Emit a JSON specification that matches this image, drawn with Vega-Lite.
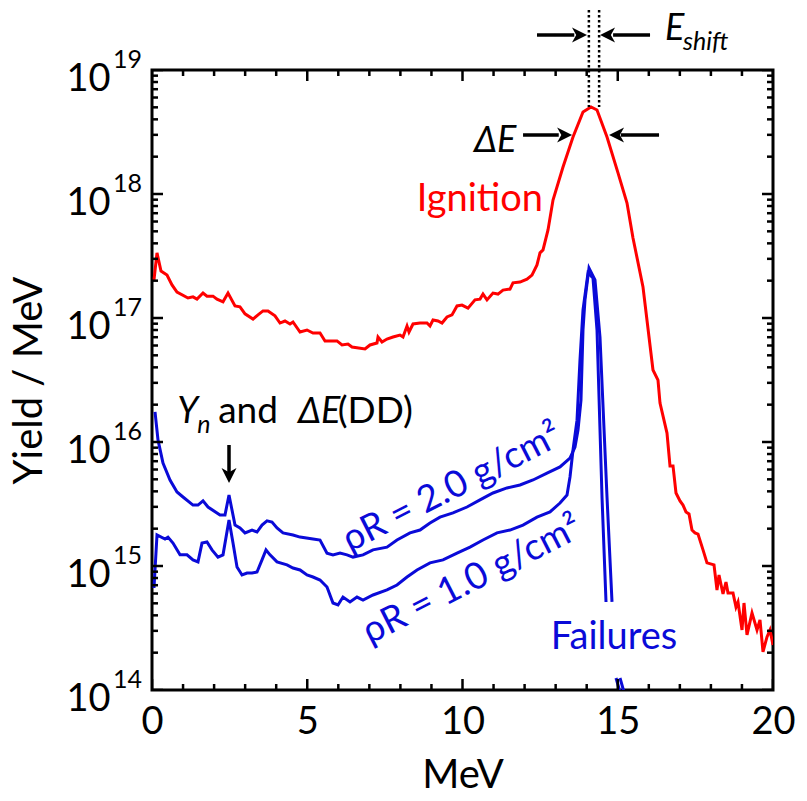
{
  "$schema": "https://vega.github.io/schema/vega-lite/v6.json",
  "width": 621,
  "height": 620,
  "autosize": {"type": "none"},
  "padding": {"left": 152, "top": 70, "right": 34, "bottom": 111},
  "background": "white",
  "config": {"view": {"stroke": "black", "strokeWidth": 3}, "font": "Lato, 'Open Sans'"},
  "datasets": {
    "spectra": [
      {"s":"ign","g":"ign","e":0.064,"y":2.03e17},{"s":"ign","g":"ign","e":0.161,"y":3.35e17},{"s":"ign","g":"ign","e":0.290,"y":2.39e17},{"s":"ign","g":"ign","e":0.483,"y":2.22e17},{"s":"ign","g":"ign","e":0.644,"y":1.85e17},{"s":"ign","g":"ign","e":0.805,"y":1.62e17},{"s":"ign","g":"ign","e":1.159,"y":1.45e17},{"s":"ign","g":"ign","e":1.320,"y":1.48e17},{"s":"ign","g":"ign","e":1.449,"y":1.42e17},{"s":"ign","g":"ign","e":1.643,"y":1.59e17},{"s":"ign","g":"ign","e":1.771,"y":1.50e17},{"s":"ign","g":"ign","e":1.965,"y":1.50e17},{"s":"ign","g":"ign","e":2.093,"y":1.42e17},{"s":"ign","g":"ign","e":2.287,"y":1.35e17},{"s":"ign","g":"ign","e":2.448,"y":1.59e17},{"s":"ign","g":"ign","e":2.673,"y":1.25e17},{"s":"ign","g":"ign","e":2.834,"y":1.23e17},{"s":"ign","g":"ign","e":2.995,"y":1.08e17},{"s":"ign","g":"ign","e":3.253,"y":9.81e16},{"s":"ign","g":"ign","e":3.414,"y":1.06e17},{"s":"ign","g":"ign","e":3.575,"y":1.14e17},{"s":"ign","g":"ign","e":3.736,"y":1.14e17},{"s":"ign","g":"ign","e":3.961,"y":1.04e17},{"s":"ign","g":"ign","e":4.122,"y":9.11e16},{"s":"ign","g":"ign","e":4.283,"y":9.46e16},{"s":"ign","g":"ign","e":4.444,"y":8.95e16},{"s":"ign","g":"ign","e":4.541,"y":9.29e16},{"s":"ign","g":"ign","e":4.767,"y":7.71e16},{"s":"ign","g":"ign","e":4.992,"y":8.00e16},{"s":"ign","g":"ign","e":5.185,"y":7.57e16},{"s":"ign","g":"ign","e":5.411,"y":7.57e16},{"s":"ign","g":"ign","e":5.572,"y":6.53e16},{"s":"ign","g":"ign","e":5.958,"y":6.53e16},{"s":"ign","g":"ign","e":6.119,"y":6.06e16},{"s":"ign","g":"ign","e":6.312,"y":6.17e16},{"s":"ign","g":"ign","e":6.441,"y":5.84e16},{"s":"ign","g":"ign","e":6.860,"y":5.62e16},{"s":"ign","g":"ign","e":7.021,"y":6.06e16},{"s":"ign","g":"ign","e":7.246,"y":6.29e16},{"s":"ign","g":"ign","e":7.279,"y":7.03e16},{"s":"ign","g":"ign","e":7.407,"y":6.41e16},{"s":"ign","g":"ign","e":7.568,"y":6.77e16},{"s":"ign","g":"ign","e":7.762,"y":7.03e16},{"s":"ign","g":"ign","e":7.987,"y":7.29e16},{"s":"ign","g":"ign","e":8.084,"y":7.03e16},{"s":"ign","g":"ign","e":8.213,"y":8.62e16},{"s":"ign","g":"ign","e":8.277,"y":7.71e16},{"s":"ign","g":"ign","e":8.406,"y":8.95e16},{"s":"ign","g":"ign","e":8.631,"y":9.11e16},{"s":"ign","g":"ign","e":8.857,"y":9.11e16},{"s":"ign","g":"ign","e":8.953,"y":8.62e16},{"s":"ign","g":"ign","e":9.050,"y":9.64e16},{"s":"ign","g":"ign","e":9.211,"y":9.46e16},{"s":"ign","g":"ign","e":9.340,"y":9.11e16},{"s":"ign","g":"ign","e":9.501,"y":1.02e17},{"s":"ign","g":"ign","e":9.662,"y":1.06e17},{"s":"ign","g":"ign","e":9.823,"y":1.25e17},{"s":"ign","g":"ign","e":9.984,"y":1.27e17},{"s":"ign","g":"ign","e":10.177,"y":1.20e17},{"s":"ign","g":"ign","e":10.403,"y":1.40e17},{"s":"ign","g":"ign","e":10.564,"y":1.42e17},{"s":"ign","g":"ign","e":10.660,"y":1.56e17},{"s":"ign","g":"ign","e":10.789,"y":1.40e17},{"s":"ign","g":"ign","e":10.982,"y":1.59e17},{"s":"ign","g":"ign","e":11.143,"y":1.56e17},{"s":"ign","g":"ign","e":11.304,"y":1.68e17},{"s":"ign","g":"ign","e":11.530,"y":1.71e17},{"s":"ign","g":"ign","e":11.626,"y":1.92e17},{"s":"ign","g":"ign","e":11.852,"y":1.95e17},{"s":"ign","g":"ign","e":12.077,"y":2.06e17},{"s":"ign","g":"ign","e":12.238,"y":2.22e17},{"s":"ign","g":"ign","e":12.399,"y":2.68e17},{"s":"ign","g":"ign","e":12.496,"y":3.35e17},{"s":"ign","g":"ign","e":12.593,"y":3.54e17},{"s":"ign","g":"ign","e":12.754,"y":5.13e17},{"s":"ign","g":"ign","e":12.915,"y":8.95e17},{"s":"ign","g":"ign","e":13.237,"y":1.65e18},{"s":"ign","g":"ign","e":13.559,"y":2.88e18},{"s":"ign","g":"ign","e":13.881,"y":4.59e18},{"s":"ign","g":"ign","e":14.138,"y":5.03e18},{"s":"ign","g":"ign","e":14.332,"y":4.76e18},{"s":"ign","g":"ign","e":14.654,"y":2.88e18},{"s":"ign","g":"ign","e":15.008,"y":1.48e18},{"s":"ign","g":"ign","e":15.298,"y":8.46e17},{"s":"ign","g":"ign","e":15.491,"y":4.42e17},{"s":"ign","g":"ign","e":15.813,"y":1.78e17},{"s":"ign","g":"ign","e":16.135,"y":3.81e16},{"s":"ign","g":"ign","e":16.296,"y":3.16e16},{"s":"ign","g":"ign","e":16.361,"y":2.06e16},{"s":"ign","g":"ign","e":16.586,"y":1.18e16},{"s":"ign","g":"ign","e":16.683,"y":6.41e15},{"s":"ign","g":"ign","e":16.780,"y":6.41e15},{"s":"ign","g":"ign","e":16.876,"y":3.88e15},{"s":"ign","g":"ign","e":17.005,"y":3.35e15},{"s":"ign","g":"ign","e":17.101,"y":3.10e15},{"s":"ign","g":"ign","e":17.198,"y":2.73e15},{"s":"ign","g":"ign","e":17.295,"y":2.63e15},{"s":"ign","g":"ign","e":17.391,"y":1.95e15},{"s":"ign","g":"ign","e":17.488,"y":1.85e15},{"s":"ign","g":"ign","e":17.585,"y":1.81e15},{"s":"ign","g":"ign","e":17.746,"y":1.35e15},{"s":"ign","g":"ign","e":17.874,"y":1.06e15},{"s":"ign","g":"ign","e":18.100,"y":1.02e15},{"s":"ign","g":"ign","e":18.196,"y":6.41e14},{"s":"ign","g":"ign","e":18.261,"y":8.46e14},{"s":"ign","g":"ign","e":18.390,"y":5.95e14},{"s":"ign","g":"ign","e":18.486,"y":7.43e14},{"s":"ign","g":"ign","e":18.551,"y":6.06e14},{"s":"ign","g":"ign","e":18.712,"y":6.06e14},{"s":"ign","g":"ign","e":18.808,"y":4.67e14},{"s":"ign","g":"ign","e":18.873,"y":5.13e14},{"s":"ign","g":"ign","e":19.002,"y":3.05e14},{"s":"ign","g":"ign","e":19.066,"y":5.03e14},{"s":"ign","g":"ign","e":19.163,"y":2.78e14},{"s":"ign","g":"ign","e":19.324,"y":4.18e14},{"s":"ign","g":"ign","e":19.485,"y":3.05e14},{"s":"ign","g":"ign","e":19.581,"y":3.67e14},{"s":"ign","g":"ign","e":19.678,"y":2.03e14},{"s":"ign","g":"ign","e":19.807,"y":2.68e14},{"s":"ign","g":"ign","e":19.903,"y":3.05e14},{"s":"ign","g":"ign","e":20.0,"y":2.31e14},

      {"s":"r2","g":"r2a","e":0.097,"y":1.75e16},{"s":"r2","g":"r2a","e":0.193,"y":1.04e16},{"s":"r2","g":"r2a","e":0.354,"y":6.77e15},{"s":"r2","g":"r2a","e":0.580,"y":4.94e15},{"s":"r2","g":"r2a","e":0.805,"y":3.95e15},{"s":"r2","g":"r2a","e":0.998,"y":3.60e15},{"s":"r2","g":"r2a","e":1.320,"y":3.10e15},{"s":"r2","g":"r2a","e":1.481,"y":3.10e15},{"s":"r2","g":"r2a","e":1.643,"y":3.35e15},{"s":"r2","g":"r2a","e":1.804,"y":2.99e15},{"s":"r2","g":"r2a","e":2.190,"y":2.58e15},{"s":"r2","g":"r2a","e":2.351,"y":2.58e15},{"s":"r2","g":"r2a","e":2.480,"y":3.74e15},{"s":"r2","g":"r2a","e":2.673,"y":2.14e15},{"s":"r2","g":"r2a","e":2.834,"y":2.03e15},{"s":"r2","g":"r2a","e":2.995,"y":1.85e15},{"s":"r2","g":"r2a","e":3.221,"y":1.95e15},{"s":"r2","g":"r2a","e":3.382,"y":1.88e15},{"s":"r2","g":"r2a","e":3.543,"y":2.14e15},{"s":"r2","g":"r2a","e":3.704,"y":2.31e15},{"s":"r2","g":"r2a","e":3.865,"y":2.26e15},{"s":"r2","g":"r2a","e":4.026,"y":2.03e15},{"s":"r2","g":"r2a","e":4.219,"y":1.85e15},{"s":"r2","g":"r2a","e":4.541,"y":1.78e15},{"s":"r2","g":"r2a","e":4.767,"y":1.71e15},{"s":"r2","g":"r2a","e":5.185,"y":1.65e15},{"s":"r2","g":"r2a","e":5.411,"y":1.62e15},{"s":"r2","g":"r2a","e":5.636,"y":1.27e15},{"s":"r2","g":"r2a","e":5.829,"y":1.23e15},{"s":"r2","g":"r2a","e":6.055,"y":1.27e15},{"s":"r2","g":"r2a","e":6.280,"y":1.23e15},{"s":"r2","g":"r2a","e":6.473,"y":1.18e15},{"s":"r2","g":"r2a","e":6.796,"y":1.23e15},{"s":"r2","g":"r2a","e":7.118,"y":1.35e15},{"s":"r2","g":"r2a","e":7.568,"y":1.42e15},{"s":"r2","g":"r2a","e":7.890,"y":1.62e15},{"s":"r2","g":"r2a","e":8.309,"y":1.85e15},{"s":"r2","g":"r2a","e":8.631,"y":1.95e15},{"s":"r2","g":"r2a","e":8.953,"y":2.22e15},{"s":"r2","g":"r2a","e":9.275,"y":2.48e15},{"s":"r2","g":"r2a","e":9.694,"y":2.68e15},{"s":"r2","g":"r2a","e":10.145,"y":2.99e15},{"s":"r2","g":"r2a","e":10.564,"y":3.41e15},{"s":"r2","g":"r2a","e":10.982,"y":3.88e15},{"s":"r2","g":"r2a","e":11.433,"y":4.26e15},{"s":"r2","g":"r2a","e":11.852,"y":4.50e15},{"s":"r2","g":"r2a","e":12.271,"y":4.94e15},{"s":"r2","g":"r2a","e":12.722,"y":5.62e15},{"s":"r2","g":"r2a","e":13.140,"y":6.29e15},{"s":"r2","g":"r2a","e":13.462,"y":7.43e15},{"s":"r2","g":"r2a","e":13.623,"y":9.11e15},{"s":"r2","g":"r2a","e":13.720,"y":1.25e16},{"s":"r2","g":"r2a","e":13.816,"y":2.18e16},{"s":"r2","g":"r2a","e":13.881,"y":8.00e16},{"s":"r2","g":"r2a","e":13.945,"y":1.40e17},{"s":"r2","g":"r2a","e":14.074,"y":2.53e17},{"s":"r2","g":"r2a","e":14.267,"y":2.03e17},{"s":"r2","g":"r2a","e":14.428,"y":7.03e16},{"s":"r2","g":"r2a","e":14.654,"y":3.60e15},{"s":"r2","g":"r2a","e":14.815,"y":5.13e14},
      {"s":"r2","g":"r2b","e":15.072,"y":1.25e14},{"s":"r2","g":"r2b","e":15.201,"y":9.64e13},

      {"s":"r1","g":"r1a","e":0.064,"y":6.65e14},{"s":"r1","g":"r1a","e":0.161,"y":1.78e15},{"s":"r1","g":"r1a","e":0.419,"y":1.65e15},{"s":"r1","g":"r1a","e":0.515,"y":1.71e15},{"s":"r1","g":"r1a","e":0.676,"y":1.53e15},{"s":"r1","g":"r1a","e":0.902,"y":1.23e15},{"s":"r1","g":"r1a","e":1.127,"y":1.23e15},{"s":"r1","g":"r1a","e":1.320,"y":1.12e15},{"s":"r1","g":"r1a","e":1.481,"y":1.08e15},{"s":"r1","g":"r1a","e":1.610,"y":1.53e15},{"s":"r1","g":"r1a","e":1.771,"y":1.56e15},{"s":"r1","g":"r1a","e":1.932,"y":1.35e15},{"s":"r1","g":"r1a","e":2.126,"y":1.18e15},{"s":"r1","g":"r1a","e":2.287,"y":1.23e15},{"s":"r1","g":"r1a","e":2.480,"y":2.35e15},{"s":"r1","g":"r1a","e":2.609,"y":1.53e15},{"s":"r1","g":"r1a","e":2.738,"y":9.81e14},{"s":"r1","g":"r1a","e":2.899,"y":8.46e14},{"s":"r1","g":"r1a","e":3.060,"y":8.78e14},{"s":"r1","g":"r1a","e":3.221,"y":8.78e14},{"s":"r1","g":"r1a","e":3.382,"y":8.95e14},{"s":"r1","g":"r1a","e":3.543,"y":1.12e15},{"s":"r1","g":"r1a","e":3.672,"y":1.35e15},{"s":"r1","g":"r1a","e":3.800,"y":1.23e15},{"s":"r1","g":"r1a","e":4.026,"y":1.08e15},{"s":"r1","g":"r1a","e":4.348,"y":1.02e15},{"s":"r1","g":"r1a","e":4.541,"y":9.64e14},{"s":"r1","g":"r1a","e":4.767,"y":9.29e14},{"s":"r1","g":"r1a","e":4.992,"y":8.46e14},{"s":"r1","g":"r1a","e":5.185,"y":8.15e14},{"s":"r1","g":"r1a","e":5.411,"y":7.71e14},{"s":"r1","g":"r1a","e":5.636,"y":6.77e14},{"s":"r1","g":"r1a","e":5.829,"y":5.03e14},{"s":"r1","g":"r1a","e":5.990,"y":4.85e14},{"s":"r1","g":"r1a","e":6.151,"y":5.62e14},{"s":"r1","g":"r1a","e":6.377,"y":5.13e14},{"s":"r1","g":"r1a","e":6.602,"y":5.62e14},{"s":"r1","g":"r1a","e":6.796,"y":5.32e14},{"s":"r1","g":"r1a","e":7.118,"y":5.84e14},{"s":"r1","g":"r1a","e":7.568,"y":6.41e14},{"s":"r1","g":"r1a","e":7.890,"y":7.03e14},{"s":"r1","g":"r1a","e":8.213,"y":8.15e14},{"s":"r1","g":"r1a","e":8.535,"y":9.29e14},{"s":"r1","g":"r1a","e":8.953,"y":1.06e15},{"s":"r1","g":"r1a","e":9.372,"y":1.12e15},{"s":"r1","g":"r1a","e":9.823,"y":1.27e15},{"s":"r1","g":"r1a","e":10.242,"y":1.42e15},{"s":"r1","g":"r1a","e":10.660,"y":1.62e15},{"s":"r1","g":"r1a","e":11.111,"y":1.85e15},{"s":"r1","g":"r1a","e":11.530,"y":1.95e15},{"s":"r1","g":"r1a","e":11.948,"y":2.14e15},{"s":"r1","g":"r1a","e":12.399,"y":2.48e15},{"s":"r1","g":"r1a","e":12.818,"y":2.73e15},{"s":"r1","g":"r1a","e":13.140,"y":3.22e15},{"s":"r1","g":"r1a","e":13.366,"y":3.74e15},{"s":"r1","g":"r1a","e":13.462,"y":5.22e15},{"s":"r1","g":"r1a","e":13.559,"y":8.62e15},{"s":"r1","g":"r1a","e":13.688,"y":1.50e16},{"s":"r1","g":"r1a","e":13.784,"y":4.59e16},{"s":"r1","g":"r1a","e":13.881,"y":1.16e17},{"s":"r1","g":"r1a","e":14.042,"y":2.31e17},{"s":"r1","g":"r1a","e":14.203,"y":2.10e17},{"s":"r1","g":"r1a","e":14.332,"y":8.00e16},{"s":"r1","g":"r1a","e":14.493,"y":3.60e15},{"s":"r1","g":"r1a","e":14.622,"y":5.13e14},
      {"s":"r1","g":"r1b","e":14.944,"y":1.25e14},{"s":"r1","g":"r1b","e":15.072,"y":9.64e13}
    ],
    "guides": [
      {"kind":"dotted","x":14.07,"x2":14.07,"y":3.05e19,"y2":5.04e18},
      {"kind":"dotted","x":14.40,"x2":14.40,"y":3.05e19,"y2":5.04e18},
      {"kind":"solid","x":12.40,"x2":13.6,"y":1.915e19,"y2":1.915e19},
      {"kind":"solid","x":16.04,"x2":14.85,"y":1.915e19,"y2":1.915e19},
      {"kind":"solid","x":11.95,"x2":13.1,"y":2.99e18,"y2":2.99e18},
      {"kind":"solid","x":16.33,"x2":15.1,"y":2.99e18,"y2":2.99e18},
      {"kind":"solid","x":2.48,"x2":2.48,"y":9.46e15,"y2":5.6e15}
    ],
    "heads": [
      {"dir":"right","x":14.01,"y":1.915e19},
      {"dir":"left","x":14.43,"y":1.915e19},
      {"dir":"right","x":13.53,"y":2.99e18},
      {"dir":"left","x":14.72,"y":2.99e18},
      {"dir":"down","x":2.48,"y":4.67e15}
    ],
    "exps": [
      {"v":1e19,"t":"19"},{"v":1e18,"t":"18"},{"v":1e17,"t":"17"},{"v":1e16,"t":"16"},{"v":1e15,"t":"15"},{"v":1e14,"t":"14"}
    ],
    "xt": [
      {"v":0,"k":"major"},{"v":1,"k":"minor"},{"v":2,"k":"minor"},{"v":3,"k":"minor"},{"v":4,"k":"minor"},{"v":5,"k":"major"},{"v":6,"k":"minor"},{"v":7,"k":"minor"},{"v":8,"k":"minor"},{"v":9,"k":"minor"},{"v":10,"k":"major"},{"v":11,"k":"minor"},{"v":12,"k":"minor"},{"v":13,"k":"minor"},{"v":14,"k":"minor"},{"v":15,"k":"major"},{"v":16,"k":"minor"},{"v":17,"k":"minor"},{"v":18,"k":"minor"},{"v":19,"k":"minor"},{"v":20,"k":"major"}
    ],
    "yt": [
      {"v":1e14,"k":"major"},{"v":2e14,"k":"minor"},{"v":3e14,"k":"minor"},{"v":4e14,"k":"minor"},{"v":5e14,"k":"minor"},{"v":6e14,"k":"minor"},{"v":7e14,"k":"minor"},{"v":8e14,"k":"minor"},{"v":9e14,"k":"minor"},
      {"v":1e15,"k":"major"},{"v":2e15,"k":"minor"},{"v":3e15,"k":"minor"},{"v":4e15,"k":"minor"},{"v":5e15,"k":"minor"},{"v":6e15,"k":"minor"},{"v":7e15,"k":"minor"},{"v":8e15,"k":"minor"},{"v":9e15,"k":"minor"},
      {"v":1e16,"k":"major"},{"v":2e16,"k":"minor"},{"v":3e16,"k":"minor"},{"v":4e16,"k":"minor"},{"v":5e16,"k":"minor"},{"v":6e16,"k":"minor"},{"v":7e16,"k":"minor"},{"v":8e16,"k":"minor"},{"v":9e16,"k":"minor"},
      {"v":1e17,"k":"major"},{"v":2e17,"k":"minor"},{"v":3e17,"k":"minor"},{"v":4e17,"k":"minor"},{"v":5e17,"k":"minor"},{"v":6e17,"k":"minor"},{"v":7e17,"k":"minor"},{"v":8e17,"k":"minor"},{"v":9e17,"k":"minor"},
      {"v":1e18,"k":"major"},{"v":2e18,"k":"minor"},{"v":3e18,"k":"minor"},{"v":4e18,"k":"minor"},{"v":5e18,"k":"minor"},{"v":6e18,"k":"minor"},{"v":7e18,"k":"minor"},{"v":8e18,"k":"minor"},{"v":9e18,"k":"minor"},
      {"v":1e19,"k":"major"}
    ]
  },
  "layer": [
    {
      "data": {"name": "spectra"},
      "mark": {"type": "line", "strokeWidth": 3, "clip": true, "interpolate": "linear"},
      "encoding": {
        "x": {"field": "e", "type": "quantitative", "scale": {"domain": [0, 20], "nice": false, "zero": false},
          "axis": {"orient": "bottom", "values": [0, 5, 10, 15, 20], "ticks": false, "domain": false,
            "labelFont": "Lato", "labelFontSize": 38, "labelColor": "black",
            "labelPadding": 13, "labelFlush": false, "title": "MeV", "titleFont": "Lato", "titleFontSize": 40,
            "titleFontWeight": "normal", "titleColor": "black", "titlePadding": 14, "grid": false}},
        "y": {"field": "y", "type": "quantitative", "scale": {"type": "log", "domain": [1e14, 1e19], "nice": false},
          "axis": {"orient": "left", "values": [1e14, 1e15, 1e16, 1e17, 1e18, 1e19], "labelExpr": "'10'",
            "ticks": false, "domain": false,
            "labelFont": "Lato", "labelFontSize": 38, "labelColor": "black", "labelPadding": 42, "labelOffset": 9,
            "labelFlush": false, "title": "Yield / MeV", "titleFont": "Lato", "titleFontSize": 40, "titleFontWeight": "normal",
            "titleColor": "black", "titlePadding": 16, "grid": false}},
        "color": {"field": "s", "type": "nominal", "scale": {"domain": ["ign", "r2", "r1"], "range": ["#ff0000", "#0a0ad8", "#0a0ad8"]}, "legend": null},
        "detail": {"field": "g"}
      }
    },
    {
      "data": {"name": "xt"},
      "mark": {"type": "tick", "orient": "vertical", "thickness": 2.5, "color": "black", "opacity": 1, "clip": true},
      "encoding": {
        "x": {"field": "v", "type": "quantitative"},
        "y": {"datum": 1e14, "type": "quantitative"},
        "size": {"field": "k", "type": "nominal", "scale": {"domain": ["major", "minor"], "range": [22, 12]}, "legend": null}
      }
    },
    {
      "data": {"name": "xt"},
      "mark": {"type": "tick", "orient": "vertical", "thickness": 2.5, "color": "black", "opacity": 1, "clip": true},
      "encoding": {
        "x": {"field": "v", "type": "quantitative"},
        "y": {"datum": 1e19, "type": "quantitative"},
        "size": {"field": "k", "type": "nominal", "scale": {"domain": ["major", "minor"], "range": [22, 12]}, "legend": null}
      }
    },
    {
      "data": {"name": "yt"},
      "mark": {"type": "tick", "orient": "horizontal", "thickness": 2.5, "color": "black", "opacity": 1, "clip": true},
      "encoding": {
        "x": {"datum": 0, "type": "quantitative"},
        "y": {"field": "v", "type": "quantitative"},
        "size": {"field": "k", "type": "nominal", "scale": {"domain": ["major", "minor"], "range": [22, 12]}, "legend": null}
      }
    },
    {
      "data": {"name": "yt"},
      "mark": {"type": "tick", "orient": "horizontal", "thickness": 2.5, "color": "black", "opacity": 1, "clip": true},
      "encoding": {
        "x": {"datum": 20, "type": "quantitative"},
        "y": {"field": "v", "type": "quantitative"},
        "size": {"field": "k", "type": "nominal", "scale": {"domain": ["major", "minor"], "range": [22, 12]}, "legend": null}
      }
    },
    {
      "data": {"name": "guides"},
      "mark": {"type": "rule", "color": "black", "clip": false},
      "encoding": {
        "x": {"field": "x", "type": "quantitative"},
        "x2": {"field": "x2"},
        "y": {"field": "y", "type": "quantitative"},
        "y2": {"field": "y2"},
        "strokeDash": {"field": "kind", "type": "nominal", "scale": {"domain": ["dotted", "solid"], "range": [[2.5, 2.5], [1, 0]]}, "legend": null},
        "strokeWidth": {"field": "kind", "type": "nominal", "scale": {"domain": ["dotted", "solid"], "range": [2.5, 3.5]}, "legend": null}
      }
    },
    {
      "data": {"name": "heads"},
      "mark": {"type": "point", "filled": true, "color": "black", "size": 900, "strokeWidth": 0, "opacity": 1, "clip": false},
      "encoding": {
        "x": {"field": "x", "type": "quantitative"},
        "y": {"field": "y", "type": "quantitative"},
        "shape": {"field": "dir", "type": "nominal", "scale": {"domain": ["right", "left", "down"],
          "range": ["M0,0L-1,-0.5L-0.72,0L-1,0.5Z", "M0,0L1,-0.5L0.72,0L1,0.5Z", "M0,0L-0.5,-1L0,-0.72L0.5,-1Z"]}, "legend": null}
      }
    },
    {
      "data": {"values": [
        {"x": 10.56, "y": 8.96e17, "t": "Ignition", "c": "red"},
        {"x": 14.88, "y": 2.62e14, "t": "Failures", "c": "blue"}
      ]},
      "mark": {"type": "text", "font": "Lato", "fontSize": 38, "align": "center", "baseline": "middle", "clip": false},
      "encoding": {
        "x": {"field": "x", "type": "quantitative"},
        "y": {"field": "y", "type": "quantitative"},
        "text": {"field": "t"},
        "color": {"field": "c", "type": "nominal", "scale": {"domain": ["red", "blue"], "range": ["#ff0000", "#0a0ad8"]}, "legend": null}
      }
    },
    {
      "data": {"values": [
        {"x": 9.66, "y": 4.26e15, "t": "ρR = 2.0 g/cm²"},
        {"x": 10.31, "y": 7.71e14, "t": "ρR = 1.0 g/cm²"}
      ]},
      "mark": {"type": "text", "font": "Lato, 'Open Sans'", "fontSize": 37, "align": "center", "baseline": "middle", "angle": 333, "color": "#0a0ad8", "clip": false},
      "encoding": {
        "x": {"field": "x", "type": "quantitative"},
        "y": {"field": "y", "type": "quantitative"},
        "text": {"field": "t"}
      }
    },
    {
      "data": {"values": [
        {"x": 0.81, "y": 1.42e16, "t": "Y"},
        {"x": 4.70, "y": 1.42e16, "t": "ΔE"},
        {"x": 10.37, "y": 2.18e18, "t": "ΔE"},
        {"x": 16.52, "y": 1.746e19, "t": "E"}
      ]},
      "mark": {"type": "text", "font": "Lato, 'Open Sans'", "fontSize": 36, "fontStyle": "italic", "align": "left", "baseline": "alphabetic", "color": "black", "clip": false},
      "encoding": {
        "x": {"field": "x", "type": "quantitative"},
        "y": {"field": "y", "type": "quantitative"},
        "text": {"field": "t"}
      }
    },
    {
      "data": {"values": [
        {"x": 1.46, "y": 1.18e16, "t": "n"},
        {"x": 17.10, "y": 1.449e19, "t": "shift"}
      ]},
      "mark": {"type": "text", "font": "Lato", "fontSize": 25, "fontStyle": "italic", "align": "left", "baseline": "alphabetic", "color": "black", "clip": false},
      "encoding": {
        "x": {"field": "x", "type": "quantitative"},
        "y": {"field": "y", "type": "quantitative"},
        "text": {"field": "t"}
      }
    },
    {
      "data": {"values": [
        {"x": 2.13, "y": 1.42e16, "t": "and"},
        {"x": 5.98, "y": 1.42e16, "t": "(DD)"}
      ]},
      "mark": {"type": "text", "font": "Lato", "fontSize": 37, "align": "left", "baseline": "alphabetic", "color": "black", "clip": false},
      "encoding": {
        "x": {"field": "x", "type": "quantitative"},
        "y": {"field": "y", "type": "quantitative"},
        "text": {"field": "t"}
      }
    },
    {
      "data": {"name": "exps"},
      "mark": {"type": "text", "font": "Lato", "fontSize": 25, "align": "right", "baseline": "middle", "dx": -10, "dy": -10, "color": "black", "clip": false},
      "encoding": {
        "x": {"datum": 0, "type": "quantitative"},
        "y": {"field": "v", "type": "quantitative"},
        "text": {"field": "t"}
      }
    }
  ]
}
